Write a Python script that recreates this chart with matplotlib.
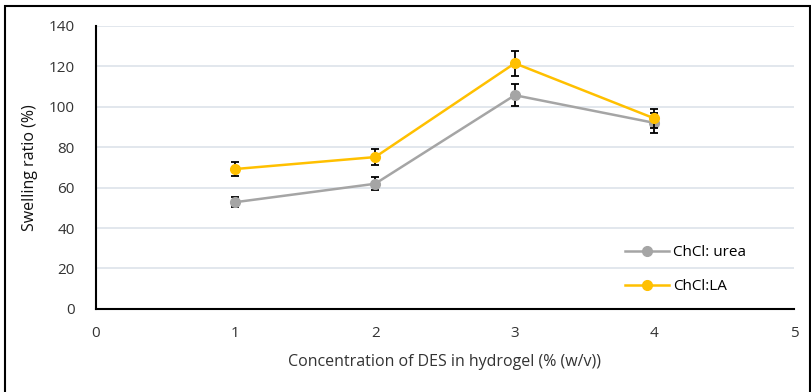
import matplotlib
matplotlib.use("Agg")
import matplotlib.pyplot as plt
from matplotlib.patches import Rectangle

x = [1, 2, 3, 4]
urea = [52.8, 61.9, 105.7, 92.0]
urea_err = [2.6, 3.1, 5.4, 4.9]
la = [69.2, 75.1, 121.5, 94.2]
la_err = [3.5, 3.8, 6.1, 4.8]
labels = ["ChCl: urea", "ChCl:LA"]

plt.rcParams['font.family'] = ['Open Sans', 'DejaVu Sans']
fig = plt.figure(figsize=(8.12, 3.92), dpi=100)
ax = fig.add_axes([0.118, 0.212, 0.860, 0.722])

gray = "#a5a5a5"
gold = "#ffc000"
ax.errorbar(x, urea, yerr=urea_err, color=gray, marker='o', ms=7, lw=1.8,
            ecolor='black', elinewidth=1.3, capsize=3, capthick=1.3, label=labels[0], zorder=3)
ax.errorbar(x, la, yerr=la_err, color=gold, marker='o', ms=7, lw=1.8,
            ecolor='black', elinewidth=1.3, capsize=3, capthick=1.3, label=labels[1], zorder=4)

ax.set_xlim(0, 5)
ax.set_ylim(0, 140)
ax.set_xticks(range(0, 6))
ax.set_yticks(range(0, 141, 20))
ax.yaxis.grid(True, color="#dde3ea", lw=1.2)
ax.set_axisbelow(True)
for s in ['top', 'right']:
    ax.spines[s].set_visible(False)
ax.spines['left'].set_color('black')
ax.spines['bottom'].set_color('black')
ax.spines['left'].set_linewidth(1.5)
ax.spines['bottom'].set_linewidth(1.5)
ax.tick_params(axis='both', length=0, labelsize=11, colors='#333333')
ax.tick_params(axis='y', pad=15)
ax.tick_params(axis='x', pad=12)
ax.set_xlabel("Concentration of DES in hydrogel (% (w/v))", fontsize=11.5, color='#333333', labelpad=10)
ax.set_ylabel("Swelling ratio (%)", fontsize=11.5, color='#111111', labelpad=8)

h, l = ax.get_legend_handles_labels()
h = [hh[0] for hh in h]
ax.legend(h, l, loc='upper left', bbox_to_anchor=(0.758, 0.225), frameon=False,
          borderpad=0, borderaxespad=0,
          fontsize=11, labelspacing=1.25, handlelength=2.9, handletextpad=0.25)

fig.patches.append(Rectangle((0.006, -0.02), 0.992, 1.005, transform=fig.transFigure,
                             fill=False, edgecolor='black', lw=1.5))
fig.savefig("out.png", dpi=100)
